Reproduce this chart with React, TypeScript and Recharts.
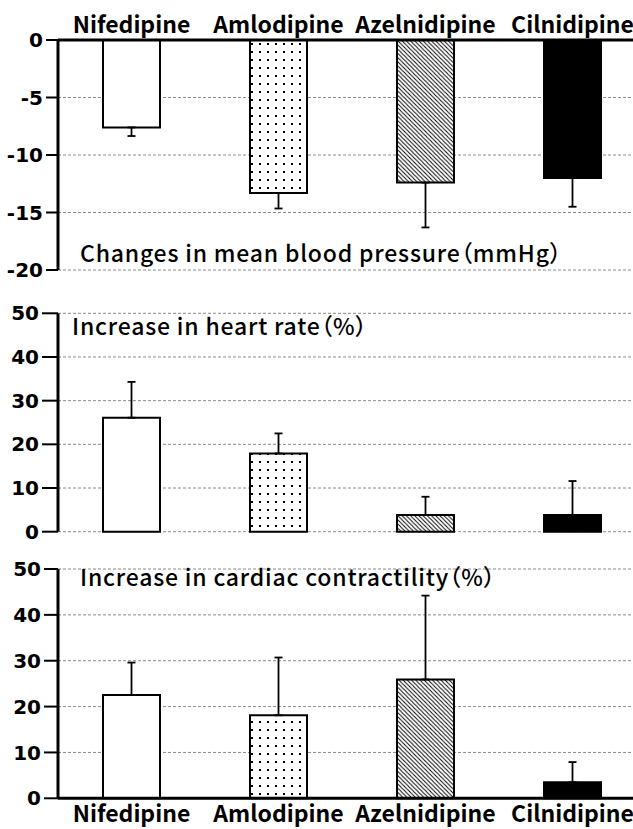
import React from 'react';
import { BarChart, Bar, XAxis, YAxis, CartesianGrid, ErrorBar, Cell } from 'recharts';

const categories = ['Nifedipine', 'Amlodipine', 'Azelnidipine', 'Cilnidipine'];
const bpValues = [-7.6, -13.3, -12.4, -12.0];
const bpErrors = [0.75, 1.35, 3.9, 2.5];
const hrValues = [26.1, 17.9, 3.8, 3.8];
const hrErrors = [8.2, 4.6, 4.2, 7.8];
const ccValues = [22.5, 18.1, 25.9, 3.5];
const ccErrors = [7.1, 12.6, 18.3, 4.4];
const bpTicks = [-20, -15, -10, -5, 0];
const pctTicks = [0, 10, 20, 30, 40, 50];
const titles = [
  'Changes in mean blood pressure（mmHg）',
  'Increase in heart rate（%）',
  'Increase in cardiac contractility（%）',
];

const FONT = '"Noto Sans CJK JP", "Noto Sans", sans-serif';
const TICK_FONT = '"DejaVu Sans", sans-serif';

const bpData = categories.map((c, i) => ({ name: c, value: bpValues[i], err: [bpErrors[i], 0] }));
const hrData = categories.map((c, i) => ({ name: c, value: hrValues[i], err: [0, hrErrors[i]] }));
const ccData = categories.map((c, i) => ({ name: c, value: ccValues[i], err: [0, ccErrors[i]] }));

const fills = (s: string) => ['#ffffff', `url(#dots-${s})`, `url(#hatch-${s})`, '#000000'];

const Defs = ({ s }: { s: string }) => (
  <defs>
    <pattern id={`dots-${s}`} patternUnits="userSpaceOnUse" width="8" height="8">
      <rect width="8" height="8" fill="#fff" />
      <rect x="3" y="3" width="2" height="2" fill="#000" />
    </pattern>
    <pattern id={`hatch-${s}`} patternUnits="userSpaceOnUse" width="4.2" height="4.2">
      <rect width="4.2" height="4.2" fill="#fff" />
      <path d="M-1,-1 L5.2,5.2 M-1,3.2 L1,5.2 M3.2,-1 L5.2,1" stroke="#000" strokeWidth="1" />
    </pattern>
  </defs>
);

const tickStyle = { fill: '#000', fontSize: 20, fontWeight: 700, fontFamily: TICK_FONT };
const catStyle = { fill: '#000', fontSize: 23, fontWeight: 700, fontFamily: FONT };
const axisLine = { stroke: '#000', strokeWidth: 3 };

function Panel({ s, data, ticks, domain, top, height, margin, xTop, showX, tickSize, xMargin }: any) {
  return (
    <div style={{ position: 'absolute', left: 0, top }}>
      <BarChart width={646} height={height} data={data} margin={margin}>
        <Defs s={s} />
        <CartesianGrid vertical={false} stroke="#8a8a8a" strokeDasharray="3 2" />
        <XAxis
          dataKey="name"
          orientation={xTop ? 'top' : 'bottom'}
          height={showX ? 30 : 0}
          tick={showX ? catStyle : false}
          tickLine={false}
          tickSize={0}
          tickMargin={xMargin}
          axisLine={axisLine}
          interval={0}
        />
        <YAxis
          width={58}
          domain={domain}
          ticks={ticks}
          interval={0}
          tick={tickStyle}
          tickSize={tickSize}
          tickMargin={3}
          tickLine={{ stroke: '#000', strokeWidth: 2 }}
          axisLine={axisLine}
        />
        <Bar dataKey="value" barSize={57} stroke="#000" strokeWidth={2} isAnimationActive={false}>
          {data.map((d: any, i: number) => (
            <Cell key={d.name} fill={fills(s)[i]} />
          ))}
          <ErrorBar dataKey="err" width={4} stroke="#000" strokeWidth={1.8} direction="y" />
        </Bar>
      </BarChart>
    </div>
  );
}

const titleStyle: any = { fontFeatureSettings: '"palt"' };

export default function App() {
  return (
    <div style={{ position: 'absolute', left: 0, top: 0, width: 633, height: 829, overflow: 'hidden', background: '#fff' }}>
      <Panel s="a" data={bpData} ticks={bpTicks} domain={[-20, 0]} top={0} height={290}
        margin={{ top: 10, right: 0, left: 0, bottom: 20 }} xTop showX tickSize={12} xMargin={7} />
      <Panel s="b" data={hrData} ticks={pctTicks} domain={[0, 50]} top={290} height={260}
        margin={{ top: 23.3, right: 0, left: 0, bottom: 18.3 }} tickSize={16} />
      <Panel s="c" data={ccData} ticks={pctTicks} domain={[0, 50]} top={550} height={279}
        margin={{ top: 19, right: 0, left: 0, bottom: 0.7 }} showX tickSize={14} xMargin={7} />
      <svg width={633} height={829} style={{ position: 'absolute', left: 0, top: 0, pointerEvents: 'none' }}>
        <text x={80} y={262} fontSize={23} fontWeight={500} fontFamily={FONT} fill="#000" letterSpacing={0.8} style={titleStyle}>{titles[0]}</text>
        <text x={72} y={335} fontSize={23} fontWeight={500} fontFamily={FONT} fill="#000" letterSpacing={0.8} style={titleStyle}>{titles[1]}</text>
        <text x={80} y={586} fontSize={23} fontWeight={500} fontFamily={FONT} fill="#000" letterSpacing={0.8} style={titleStyle}>{titles[2]}</text>
      </svg>
    </div>
  );
}
